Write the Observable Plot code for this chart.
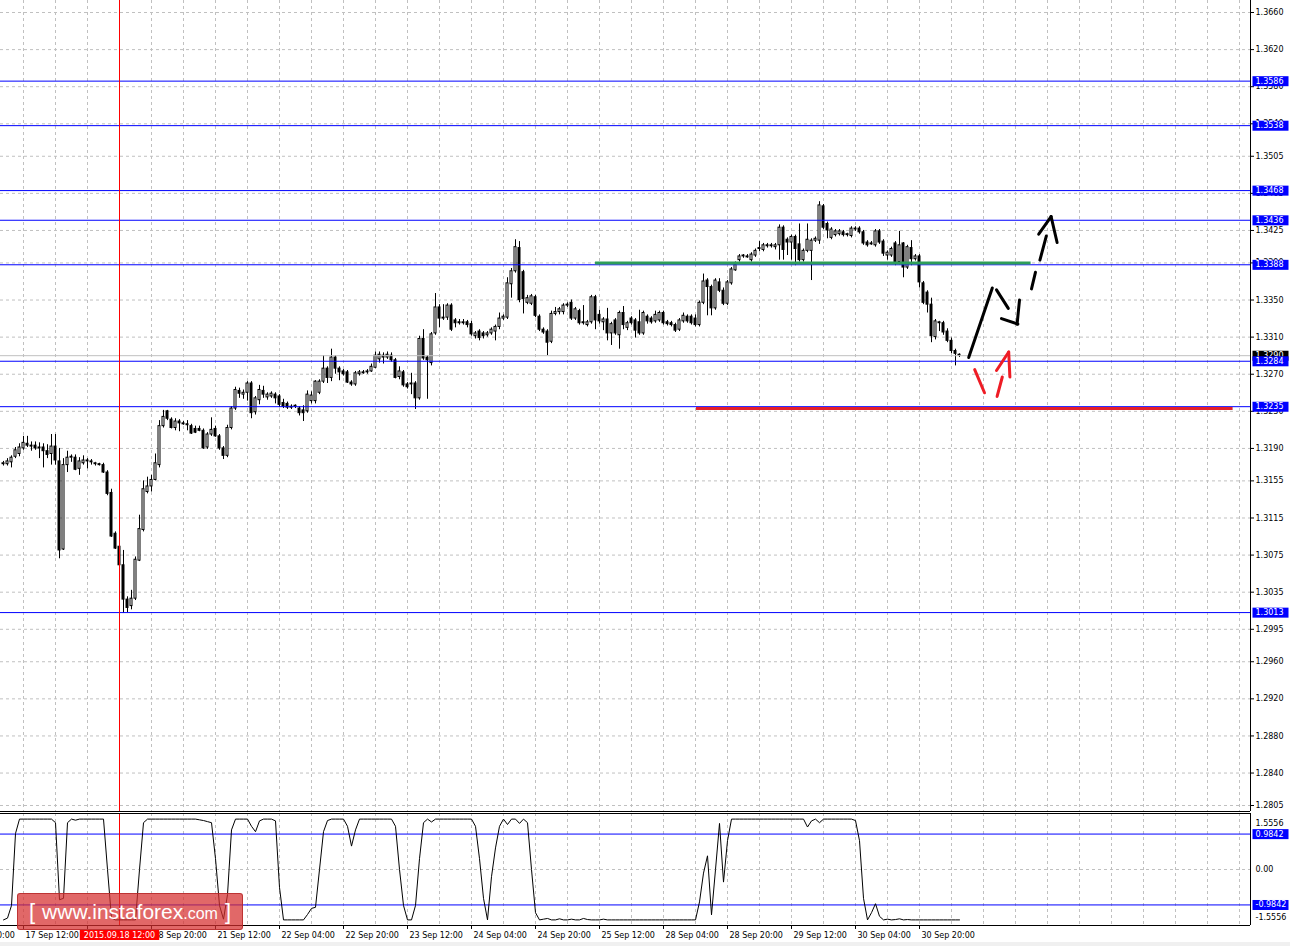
<!DOCTYPE html>
<html><head><meta charset="utf-8">
<script src="https://cdn.jsdelivr.net/npm/d3@7"></script>
<script src="https://cdn.jsdelivr.net/npm/@observablehq/plot@0.6"></script>
<style>
body{margin:0;background:#fff;}
#wrap{position:relative;width:1290px;height:946px;overflow:hidden;background:#fff;}
#main{position:absolute;left:0;top:0;}
#ind{position:absolute;left:0;top:812px;}
#wm{position:absolute;left:17px;top:893px;width:226px;height:37px;box-sizing:border-box;background:rgba(214,46,46,0.72);border:1px solid rgba(180,40,40,0.8);border-radius:3px;color:#fff;font-family:"Liberation Sans",Arial,sans-serif;display:flex;align-items:center;justify-content:center;font-size:21px;letter-spacing:0;}
#wm .c{font-size:16px;margin-top:4px;}
#wm .b{font-size:22px;margin:0 7px;}
#foot{position:absolute;left:0;top:942px;width:1290px;height:4px;background:#f0f0f0;}
</style></head><body>
<div id="wrap"><div id="main"></div><div id="ind"></div>
<div id="wm"><span class="b">[</span><span>www.instaforex</span><span class="c">.com</span><span class="b">]</span></div>
<div id="foot"></div></div>
<script>
// ---- hourly bars (price in pips: 1 + v/10000) ----
const open = [
3173,3173,3175,3181,3184,3190,3195,3193,3193,3191,
3191,3187,3184,3192,3176,3081,3172,3180,3180,3168,
3174,3176,3175,3173,3173,3172,3164,3142,3098,3084,
3064,3027,3020,3028,3069,3102,3143,3149,3156,3172,
3214,3230,3221,3212,3219,3217,3216,3214,3211,3211,
3209,3191,3205,3211,3203,3190,3182,3212,3233,3252,
3248,3250,3260,3229,3242,3252,3245,3246,3248,3246,
3239,3238,3235,3235,3233,3231,3230,3241,3241,3250,
3262,3276,3266,3288,3276,3273,3272,3261,3259,3270,
3272,3272,3273,3277,3286,3290,3288,3290,3285,3267,
3272,3259,3259,3260,3244,3308,3288,3282,3314,3342,
3330,3331,3344,3328,3326,3325,3326,3324,3311,3316,
3314,3312,3314,3316,3321,3330,3331,3367,3381,3406,
3380,3347,3346,3353,3332,3318,3316,3305,3335,3337,
3337,3344,3347,3330,3338,3326,3323,3326,3353,3334,
3326,3329,3314,3328,3312,3336,3320,3330,3328,3326,
3314,3332,3330,3327,3328,3336,3326,3325,3323,3318,
3327,3332,3332,3330,3323,3347,3371,3364,3341,3369,
3360,3346,3368,3382,3393,3397,3397,3393,3398,3405,
3404,3409,3408,3407,3409,3428,3415,3412,3418,3410,
3393,3403,3403,3414,3414,3451,3432,3417,3420,3421,
3423,3420,3419,3426,3427,3423,3412,3411,3409,3424,
3413,3398,3398,3411,3391,3411,3385,3406,3394,3397,
3368,3358,3345,3310,3325,3325,3316,3306,3295,3291];
const high = [
3176,3179,3182,3191,3195,3203,3203,3197,3197,3196,
3195,3194,3205,3205,3190,3179,3187,3183,3183,3180,
3182,3179,3178,3175,3174,3174,3166,3146,3100,3086,
3080,3030,3037,3073,3118,3155,3159,3161,3184,3220,
3231,3231,3223,3222,3221,3219,3220,3216,3214,3214,
3211,3207,3223,3214,3205,3192,3215,3235,3256,3255,
3253,3262,3262,3246,3258,3257,3250,3251,3250,3248,
3243,3240,3237,3237,3235,3236,3252,3251,3263,3264,
3290,3278,3297,3290,3278,3275,3274,3263,3273,3274,
3274,3275,3281,3294,3294,3293,3294,3293,3287,3278,
3274,3261,3271,3262,3311,3318,3290,3315,3357,3345,
3345,3346,3346,3330,3329,3329,3328,3327,3316,3318,
3316,3316,3320,3323,3336,3334,3374,3384,3415,3413,
3382,3355,3356,3355,3334,3320,3318,3338,3342,3342,
3346,3347,3350,3342,3340,3344,3328,3355,3355,3339,
3331,3341,3326,3330,3338,3343,3327,3332,3330,3339,
3338,3334,3332,3338,3338,3338,3328,3327,3325,3330,
3336,3334,3334,3334,3349,3378,3373,3366,3373,3373,
3363,3371,3385,3391,3399,3399,3399,3401,3405,3413,
3411,3411,3411,3411,3431,3430,3417,3420,3420,3432,
3405,3432,3416,3418,3456,3453,3434,3428,3426,3426,
3425,3422,3429,3429,3429,3425,3414,3413,3426,3426,
3415,3403,3407,3413,3424,3412,3409,3414,3399,3399,
3370,3360,3352,3329,3327,3327,3319,3309,3297,3292];
const low = [
3171,3171,3169,3179,3181,3188,3191,3187,3188,3179,
3169,3179,3172,3172,3071,3080,3164,3175,3166,3161,
3172,3168,3172,3171,3171,3163,3139,3094,3081,3063,
3012,3013,3016,3026,3068,3100,3141,3143,3155,3169,
3212,3220,3211,3209,3208,3215,3209,3205,3206,3208,
3189,3189,3203,3202,3188,3178,3180,3210,3231,3244,
3243,3241,3222,3226,3237,3244,3242,3244,3238,3234,
3233,3232,3232,3233,3225,3219,3228,3238,3238,3248,
3260,3260,3262,3270,3263,3268,3260,3257,3257,3268,
3270,3270,3272,3276,3282,3281,3286,3283,3265,3264,
3256,3254,3248,3232,3242,3285,3243,3279,3312,3320,
3328,3328,3316,3320,3323,3323,3320,3311,3308,3306,
3308,3310,3312,3306,3318,3328,3329,3352,3379,3347,
3335,3345,3344,3331,3316,3313,3290,3303,3333,3334,
3334,3342,3328,3328,3323,3323,3321,3324,3318,3324,
3317,3306,3301,3312,3297,3318,3317,3323,3309,3312,
3312,3324,3324,3325,3326,3323,3322,3321,3315,3316,
3325,3325,3323,3321,3321,3345,3333,3333,3339,3358,
3344,3344,3366,3381,3391,3395,3395,3391,3396,3402,
3402,3406,3406,3404,3393,3393,3398,3393,3387,3391,
3391,3401,3371,3412,3410,3426,3416,3415,3418,3419,
3418,3418,3417,3424,3421,3409,3407,3409,3407,3410,
3397,3393,3396,3387,3388,3374,3383,3387,3392,3363,
3345,3336,3304,3307,3316,3312,3304,3292,3279,3288];
const close = [
3174,3176,3180,3188,3191,3196,3193,3192,3190,3190,
3187,3183,3192,3177,3080,3172,3180,3181,3167,3176,
3177,3177,3176,3174,3172,3164,3141,3095,3082,3064,
3027,3018,3028,3070,3103,3146,3149,3156,3174,3214,
3224,3222,3212,3219,3217,3216,3215,3206,3207,3209,
3190,3205,3210,3203,3190,3182,3212,3233,3253,3249,
3250,3260,3228,3244,3253,3248,3248,3249,3244,3237,
3235,3234,3234,3236,3228,3228,3248,3247,3262,3262,
3276,3266,3288,3276,3272,3270,3261,3259,3271,3272,
3271,3273,3278,3290,3291,3288,3291,3285,3266,3273,
3258,3256,3260,3244,3308,3287,3285,3313,3342,3330,
3331,3344,3318,3325,3325,3326,3323,3313,3314,3309,
3311,3314,3318,3321,3330,3332,3368,3381,3407,3350,
3351,3352,3354,3333,3318,3315,3304,3335,3337,3340,
3344,3345,3330,3340,3325,3325,3326,3353,3328,3327,
3329,3314,3324,3314,3336,3323,3325,3325,3317,3314,
3336,3327,3326,3334,3336,3325,3324,3323,3317,3328,
3333,3327,3325,3323,3347,3370,3364,3341,3371,3360,
3346,3369,3383,3388,3397,3398,3396,3399,3403,3406,
3409,3408,3409,3409,3428,3404,3412,3418,3405,3393,
3403,3415,3414,3416,3452,3428,3425,3426,3424,3424,
3420,3421,3427,3427,3423,3411,3409,3410,3424,3412,
3400,3401,3405,3391,3409,3385,3407,3394,3397,3369,
3347,3345,3311,3327,3326,3315,3306,3295,3292,3290];
// ---- oscillator in the lower window ----
const oscillator = [
-1.40,-1.35,-1.0,1.0,1.40,1.40,1.40,1.40,1.40,1.40,
1.40,1.40,1.40,1.30,-0.84,-0.80,1.30,1.40,1.37,1.40,
1.40,1.40,1.40,1.40,1.40,1.40,0.0,-1.35,-1.40,-1.40,
-1.40,-1.40,-1.40,-1.40,0.0,1.30,1.40,1.40,1.40,1.40,
1.40,1.40,1.40,1.40,1.40,1.40,1.40,1.40,1.40,1.38,
1.36,1.33,1.30,0.3,-1.0,-1.38,-0.7,1.1,1.40,1.40,
1.40,1.40,1.20,1.05,1.35,1.40,1.40,1.40,1.35,-0.5,
-1.40,-1.40,-1.40,-1.40,-1.40,-1.40,-1.25,-1.08,-1.05,0.0,
1.05,1.36,1.40,1.40,1.40,1.40,1.20,0.65,1.10,1.40,
1.40,1.40,1.40,1.40,1.40,1.40,1.40,1.40,1.20,0.0,
-1.0,-1.40,-1.40,-1.0,0.3,1.30,1.40,1.32,1.40,1.40,
1.40,1.40,1.40,1.40,1.40,1.40,1.40,1.40,1.20,0.3,
-0.8,-1.40,-0.2,0.6,1.20,1.40,1.25,1.40,1.40,1.28,
1.40,1.30,0.0,-1.20,-1.40,-1.38,-1.36,-1.40,-1.40,-1.37,
-1.40,-1.40,-1.38,-1.40,-1.40,-1.36,-1.39,-1.40,-1.40,-1.40,
-1.38,-1.40,-1.40,-1.40,-1.40,-1.40,-1.40,-1.40,-1.40,-1.40,
-1.40,-1.40,-1.40,-1.40,-1.40,-1.40,-1.40,-1.40,-1.40,-1.40,
-1.40,-1.40,-1.40,-1.40,-0.9,-0.1,0.38,-1.26,0.0,1.28,
-0.35,0.8,1.40,1.40,1.40,1.40,1.40,1.40,1.40,1.40,
1.40,1.40,1.40,1.40,1.40,1.40,1.40,1.40,1.40,1.40,
1.40,1.18,1.35,1.40,1.30,1.40,1.40,1.40,1.40,1.40,
1.40,1.40,1.40,1.36,0.8,-0.8,-1.40,-1.20,-0.95,-1.30,
-1.40,-1.38,-1.40,-1.39,-1.37,-1.40,-1.39,-1.40,-1.40,-1.40,
-1.40,-1.40,-1.40,-1.40,-1.40,-1.40,-1.40,-1.40,-1.40,-1.40];

// ---- axis ticks and labels ----
const priceTicks = [1.3660,1.3620,1.3580,1.3540,1.3505,1.3465,1.3425,1.3390,1.3350,1.3310,1.3270,1.3230,1.3190,1.3155,1.3115,1.3075,1.3035,1.2995,1.2960,1.2920,1.2880,1.2840,1.2805];
const levels = [1.3586,1.3538,1.3468,1.3436,1.3388,1.3284,1.3235,1.3013];
const bidPrice = 1.3290;
const timeTickBars = [-11,5,21,37,53,69,85,101,117,133,149,165,181,197,213,229];
const timeTickLabels = ["16 Sep 20:00","17 Sep 12:00","18 Sep 04:00","18 Sep 20:00","21 Sep 12:00","22 Sep 04:00","22 Sep 20:00","23 Sep 12:00","24 Sep 04:00","24 Sep 20:00","25 Sep 12:00","28 Sep 04:00","28 Sep 20:00","29 Sep 12:00","30 Sep 04:00","30 Sep 20:00"];
const crossBar = 29, crossLabel = "2015.09.18 12:00";
const oscLevels = [0.9842,-0.9842];
const oscRange = [-1.5556, 1.5556];

// ---- drawn annotations (bar index, price in pips) ----
const greenZone = [[148, 256.9, 3390]];
const redZone = [[173.25, 307.4, 3233]];
const blackStrokes = [[241.3,3288,247.2,3363],[248.25,3361,251.2,3341],[249.5,3330,253.6,3324],[254,3350,253.4,3324],[257,3362,258,3380],[259.1,3393,260.7,3419],[258.8,3421,261.9,3440],[261.9,3440,263.4,3412]];
const redStrokes = [[242.8,3275,245.25,3250],[248.4,3246,249.7,3267],[248.25,3274,251.3,3294],[251.3,3294,251.6,3267]];

// ---------------------------------------------------------------
const P = v => 1 + v / 10000;
const xDomain = [-0.75, 311.75];
const yDomain = [1.279854, 1.367294];
const font = "DejaVu Sans, Verdana, sans-serif";
const bars = open.map((o, i) => ({i, o: P(o), h: P(high[i]), l: P(low[i]), c: P(close[i])}));
const up = bars.filter(d => d.c >= d.o), dn = bars.filter(d => d.c < d.o);
const gridBars = d3.range(5, 312, 8);
const seg = a => a.map(([x1, y1, x2, y2]) => ({x1, y1: P(y1), x2, y2: P(y2)}));
const zone = a => a.map(([x1, x2, y]) => ({x1, x2, y: P(y)}));
const grid = {stroke: "#c0c0c0", strokeDasharray: "3,3"};

const main = Plot.plot({
  width: 1290, height: 812,
  marginLeft: 0, marginRight: 40, marginTop: 0, marginBottom: 1,
  style: {fontFamily: font, fontSize: "8px", background: "white"},
  x: {domain: xDomain, axis: null},
  y: {domain: yDomain, axis: null},
  marks: [
    Plot.ruleY(priceTicks, grid),
    Plot.ruleX(gridBars, grid),
    Plot.ruleX(bars, {x: "i", y1: "l", y2: "h", stroke: "black"}),
    Plot.rect(up, {x1: d => d.i - 0.25, x2: d => d.i + 0.25, y1: "o", y2: "c", fill: "white", stroke: "black"}),
    Plot.rect(dn, {x1: d => d.i - 0.25, x2: d => d.i + 0.25, y1: "o", y2: "c", fill: "black", stroke: "black"}),
    Plot.ruleY([bidPrice], {stroke: "#c0c0c0"}),
    Plot.ruleY(levels, {stroke: "#0000ff"}),
    Plot.ruleY(zone(greenZone), {x1: "x1", x2: "x2", y: "y", stroke: "#2e9e58", strokeWidth: 3}),
    Plot.ruleY(zone(redZone), {x1: "x1", x2: "x2", y: "y", stroke: "#e3202a", strokeWidth: 3}),
    Plot.ruleX([crossBar], {stroke: "#ff0000"}),
    Plot.link(seg(blackStrokes), {x1: "x1", y1: "y1", x2: "x2", y2: "y2", stroke: "black", strokeWidth: 3, strokeLinecap: "round"}),
    Plot.link(seg(redStrokes), {x1: "x1", y1: "y1", x2: "x2", y2: "y2", stroke: "#ee1c25", strokeWidth: 3, strokeLinecap: "round"}),
    Plot.ruleX([xDomain[1]], {stroke: "black"}),
    Plot.ruleY([yDomain[0]], {stroke: "black"}),
    Plot.ruleY(priceTicks, {x1: () => xDomain[1], x2: () => xDomain[1] + 1, stroke: "black"}),
    Plot.text(priceTicks, {y: d => d, text: d => d.toFixed(4), frameAnchor: "right", textAnchor: "start", dx: 5, fill: "black"}),
    Plot.text([bidPrice], {y: d => d, text: d => d.toFixed(4), frameAnchor: "right", textAnchor: "start", dx: 5, fill: "white", ariaDescription: "bid"}),
    Plot.text(levels, {y: d => d, text: d => d.toFixed(4), frameAnchor: "right", textAnchor: "start", dx: 5, fill: "white", ariaDescription: "lvl"})
  ]
});

const ind = Plot.plot({
  width: 1290, height: 134,
  marginLeft: 0, marginRight: 40, marginTop: 1, marginBottom: 21,
  style: {fontFamily: font, fontSize: "8px", background: "transparent"},
  x: {domain: xDomain, axis: null},
  y: {domain: oscRange, axis: null},
  marks: [
    Plot.ruleX(gridBars, grid),
    Plot.ruleY([0], grid),
    Plot.ruleY(oscLevels, {stroke: "#0000ff"}),
    Plot.ruleX([crossBar], {stroke: "#ff0000"}),
    Plot.line(oscillator.map((v, i) => ({i, v})), {x: "i", y: "v", stroke: "black", strokeWidth: 1}),
    Plot.ruleX([xDomain[1]], {stroke: "black"}),
    Plot.ruleY(oscRange, {stroke: "black"}),
    Plot.ruleX(timeTickBars, {x: d => d, y1: () => oscRange[0], y2: () => oscRange[0] - 0.11, stroke: "black"}),
    Plot.text(timeTickBars, {x: d => d, text: (d, i) => timeTickLabels[i], frameAnchor: "bottom", textAnchor: "start", dy: 12, dx: 2, fill: "black"}),
    Plot.text([crossBar], {x: d => d, text: () => crossLabel, frameAnchor: "bottom", textAnchor: "middle", dy: 12, fill: "white", ariaDescription: "cross"}),
    Plot.text(["1.5556"], {text: d => d, frameAnchor: "top-right", textAnchor: "start", dx: 5, dy: 7, fill: "black"}),
    Plot.text(["-1.5556"], {text: d => d, frameAnchor: "bottom-right", textAnchor: "start", dx: 5, dy: -6, fill: "black"}),
    Plot.text([0], {y: d => d, text: () => "0.00", frameAnchor: "right", textAnchor: "start", dx: 5, fill: "black"}),
    Plot.text(oscLevels, {y: d => d, text: d => d.toFixed(4), frameAnchor: "right", textAnchor: "start", dx: 5, fill: "white", ariaDescription: "lvl"})
  ]
});

document.getElementById("main").appendChild(main);
document.getElementById("ind").appendChild(ind);

function boxes(svg, desc, color, fixedW) {
  svg.querySelectorAll(`g[aria-description="${desc}"] text`).forEach(t => {
    const b = t.getBBox();
    const r = document.createElementNS("http://www.w3.org/2000/svg", "rect");
    const w = fixedW || b.width + 8;
    r.setAttribute("x", fixedW ? b.x - 3 : b.x + b.width / 2 - w / 2);
    r.setAttribute("y", b.y - 0.5);
    r.setAttribute("width", w);
    r.setAttribute("height", b.height + 1);
    r.setAttribute("fill", color);
    r.setAttribute("stroke", "none");
    if (t.getAttribute("transform")) r.setAttribute("transform", t.getAttribute("transform"));
    t.parentNode.insertBefore(r, t);
  });
}
boxes(main, "bid", "#000000", 36);
boxes(main, "lvl", "#0000ff", 36);
boxes(ind, "lvl", "#0000ff", 36);
boxes(ind, "cross", "#ff0000");
</script>
</body></html>
